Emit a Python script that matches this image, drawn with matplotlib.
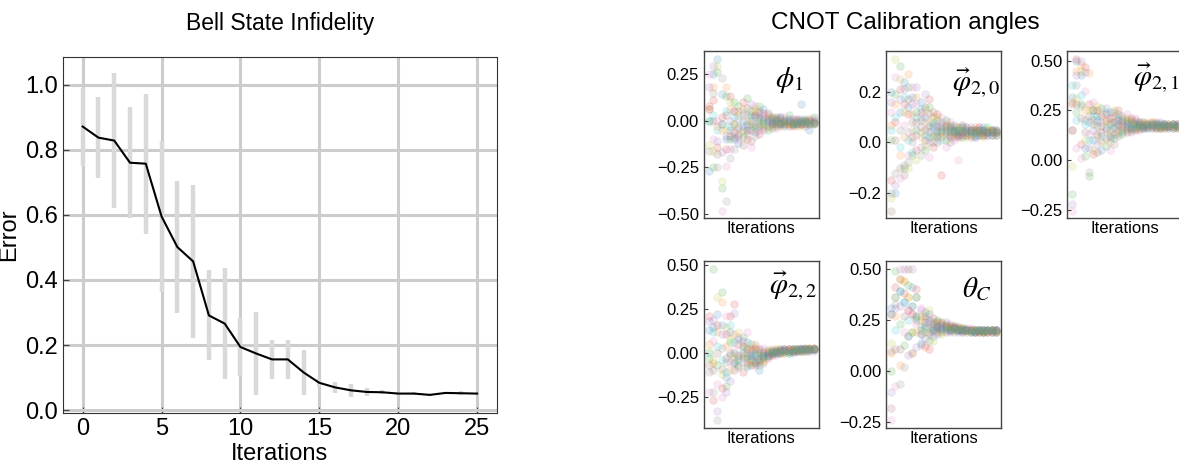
import numpy as np
import matplotlib.pyplot as plt

plt.rcParams['font.family'] = ['Liberation Sans', 'DejaVu Sans']
plt.rcParams['mathtext.fontset'] = 'stix'

# Bell state infidelity (mean +- half-range)
iters = list(range(26))
err_mean = [0.871, 0.837, 0.828, 0.760, 0.757, 0.595, 0.501, 0.457, 0.291, 0.266,
            0.194, 0.174, 0.156, 0.156, 0.116, 0.084, 0.070, 0.061, 0.056, 0.055,
            0.051, 0.051, 0.047, 0.053, 0.052, 0.051]
err_bar = [0.120, 0.125, 0.207, 0.171, 0.215, 0.233, 0.202, 0.236, 0.138, 0.171,
           0.090, 0.127, 0.059, 0.059, 0.069, 0.012, 0.018, 0.020, 0.011, 0.006,
           0.004, 0.005, 0.003, 0.004, 0.006, 0.003]

# calibration angles, one row per run
phi1 = [
    [-0.27, 0.25, 0.33, 0.14, -0.10, -0.05, -0.10, -0.12, 0.00, -0.05, 0.03, -0.06, 0.02, 0.06, -0.03, 0.01, -0.02, 0.02, -0.03, 0.00, -0.02, 0.01, 0.09, -0.01, -0.05, -0.01],
    [0.06, 0.18, -0.03, -0.05, 0.18, 0.06, -0.02, 0.05, 0.06, 0.03, -0.02, 0.05, 0.00, -0.04, 0.02, -0.03, 0.00, -0.03, 0.01, -0.02, -0.01, -0.03, 0.00, -0.02, -0.01, 0.00],
    [0.00, -0.25, 0.26, -0.36, 0.13, -0.10, 0.10, 0.08, -0.09, 0.12, 0.05, -0.04, 0.08, 0.01, -0.05, 0.02, -0.03, 0.01, -0.01, 0.03, -0.02, 0.00, -0.02, 0.01, 0.00, 0.02],
    [0.08, 0.11, -0.14, 0.02, -0.15, 0.13, -0.06, -0.04, 0.10, -0.10, -0.05, 0.03, -0.07, 0.04, 0.00, -0.02, 0.02, -0.01, 0.00, -0.03, 0.01, -0.01, -0.02, 0.00, 0.01, -0.01],
    [0.18, 0.29, -0.11, -0.17, -0.08, 0.00, -0.09, 0.01, -0.03, -0.02, 0.09, -0.02, 0.04, -0.05, 0.03, 0.00, -0.01, 0.02, -0.02, 0.01, 0.00, -0.02, 0.01, -0.03, 0.00, 0.01],
    [0.06, 0.00, -0.18, -0.02, 0.03, -0.08, 0.05, -0.08, -0.13, 0.07, -0.11, 0.02, -0.03, 0.00, 0.04, -0.01, 0.01, -0.02, 0.00, -0.01, -0.03, 0.00, -0.01, 0.00, -0.02, -0.01],
    [0.25, -0.10, 0.00, -0.48, -0.24, -0.15, 0.05, -0.10, 0.03, -0.05, -0.14, 0.08, -0.05, 0.02, -0.02, 0.01, -0.04, 0.00, 0.02, -0.01, 0.00, 0.01, -0.01, -0.02, 0.00, -0.02],
    [-0.16, 0.15, -0.25, 0.23, -0.43, -0.20, -0.15, -0.07, -0.05, -0.07, 0.00, -0.08, 0.05, -0.03, 0.01, -0.04, 0.00, -0.01, -0.02, 0.00, -0.01, -0.02, 0.00, -0.01, -0.01, 0.00],
    [-0.13, -0.16, 0.29, -0.32, -0.05, 0.10, -0.02, 0.03, -0.06, 0.00, -0.03, 0.06, -0.02, -0.02, -0.04, 0.02, -0.02, 0.00, -0.01, -0.02, -0.01, 0.00, -0.03, 0.00, -0.01, -0.02],
    [0.00, 0.03, -0.05, -0.02, 0.05, -0.03, 0.02, -0.03, 0.04, -0.03, 0.02, -0.03, 0.01, -0.01, 0.00, -0.01, 0.01, -0.02, 0.00, 0.01, -0.02, -0.01, 0.00, 0.00, -0.02, -0.01],
]
phi20 = [
    [0.20, -0.20, 0.12, 0.24, 0.14, 0.18, 0.05, 0.16, 0.10, 0.02, 0.08, 0.03, 0.06, 0.09, 0.04, 0.07, 0.03, 0.06, 0.04, 0.05, 0.02, 0.05, 0.04, 0.03, 0.05, 0.04],
    [0.07, 0.15, -0.05, 0.02, 0.27, 0.11, 0.18, 0.02, 0.13, 0.07, 0.10, 0.06, 0.02, 0.04, 0.07, 0.03, 0.06, 0.04, 0.05, 0.03, 0.06, 0.04, 0.05, 0.05, 0.03, 0.05],
    [0.01, 0.19, 0.30, -0.10, 0.22, -0.05, 0.12, 0.09, -0.03, 0.14, 0.03, 0.09, 0.05, 0.01, 0.06, 0.04, 0.05, 0.02, 0.06, 0.04, 0.05, 0.03, 0.04, 0.06, 0.04, 0.03],
    [-0.15, 0.08, 0.21, 0.15, 0.11, 0.02, -0.03, 0.12, 0.05, 0.17, -0.02, 0.11, -0.13, 0.07, 0.03, 0.05, 0.02, 0.07, 0.03, 0.05, 0.04, 0.06, 0.03, 0.04, 0.05, 0.04],
    [0.16, -0.17, 0.17, 0.21, 0.04, 0.15, 0.22, -0.02, 0.19, 0.00, 0.06, 0.02, 0.08, 0.03, 0.05, 0.02, 0.04, 0.05, 0.03, 0.06, 0.03, 0.04, 0.05, 0.03, 0.04, 0.05],
    [-0.27, 0.01, -0.10, -0.13, 0.17, 0.08, 0.08, 0.06, 0.01, 0.11, 0.12, 0.00, 0.04, 0.06, 0.00, 0.06, 0.03, 0.04, 0.05, 0.02, 0.05, 0.05, 0.03, 0.04, 0.04, 0.03],
    [0.12, 0.26, -0.14, 0.07, -0.05, 0.22, 0.15, 0.10, 0.08, -0.06, 0.05, 0.07, 0.10, -0.02, 0.08, 0.01, -0.07, 0.03, 0.06, 0.04, 0.02, 0.06, 0.04, 0.05, 0.03, 0.04],
    [-0.20, -0.12, 0.05, -0.09, -0.08, 0.00, 0.03, -0.05, 0.14, 0.04, 0.00, 0.04, 0.07, 0.05, 0.02, 0.05, 0.04, 0.03, 0.04, 0.05, 0.04, 0.03, 0.05, 0.04, 0.05, 0.04],
    [-0.22, 0.33, 0.25, 0.12, -0.10, 0.05, -0.07, 0.04, -0.01, 0.08, 0.02, 0.10, 0.03, 0.08, 0.04, 0.03, 0.06, 0.05, 0.02, 0.03, 0.05, 0.04, 0.02, 0.05, 0.05, 0.04],
    [0.05, 0.10, -0.02, 0.18, 0.01, -0.04, 0.10, 0.13, 0.03, 0.06, 0.07, 0.05, 0.01, 0.04, 0.06, 0.04, 0.05, 0.06, 0.04, 0.04, 0.03, 0.05, 0.06, 0.04, 0.03, 0.05],
]
phi21 = [
    [0.32, 0.50, 0.43, 0.06, 0.19, 0.10, 0.22, 0.05, 0.16, 0.24, 0.13, 0.20, 0.15, 0.19, 0.16, 0.18, 0.17, 0.19, 0.16, 0.18, 0.17, 0.16, 0.18, 0.17, 0.16, 0.17],
    [0.29, 0.45, 0.48, 0.25, 0.44, 0.20, 0.12, 0.23, 0.20, 0.09, 0.22, 0.14, 0.21, 0.15, 0.19, 0.16, 0.18, 0.16, 0.19, 0.17, 0.18, 0.17, 0.16, 0.18, 0.17, 0.18],
    [-0.17, 0.24, 0.28, 0.02, -0.08, 0.25, 0.17, 0.26, 0.07, 0.18, 0.11, 0.23, 0.13, 0.20, 0.15, 0.19, 0.16, 0.18, 0.17, 0.16, 0.18, 0.18, 0.17, 0.16, 0.18, 0.17],
    [0.15, 0.51, 0.08, 0.47, 0.28, 0.03, 0.25, 0.14, 0.23, 0.12, 0.19, 0.25, 0.17, 0.14, 0.20, 0.15, 0.19, 0.17, 0.18, 0.19, 0.16, 0.17, 0.18, 0.17, 0.17, 0.16],
    [-0.22, 0.43, 0.50, 0.445, 0.06, 0.15, 0.08, 0.19, 0.26, 0.15, 0.24, 0.12, 0.22, 0.18, 0.14, 0.20, 0.15, 0.17, 0.16, 0.18, 0.17, 0.19, 0.16, 0.18, 0.18, 0.17],
    [0.28, 0.28, 0.21, 0.14, 0.22, 0.25, 0.04, 0.17, 0.11, 0.21, 0.16, 0.18, 0.20, 0.16, 0.21, 0.17, 0.18, 0.16, 0.17, 0.17, 0.19, 0.16, 0.17, 0.17, 0.18, 0.18],
    [-0.255, 0.06, 0.01, 0.35, 0.13, 0.29, 0.19, 0.10, 0.20, 0.05, 0.21, 0.15, 0.18, 0.23, 0.17, 0.21, 0.16, 0.18, 0.17, 0.16, 0.18, 0.17, 0.18, 0.16, 0.17, 0.18],
    [0.15, 0.38, 0.27, 0.20, -0.06, 0.18, 0.13, 0.22, 0.15, 0.19, 0.08, 0.17, 0.19, 0.17, 0.18, 0.16, 0.19, 0.17, 0.18, 0.18, 0.16, 0.18, 0.17, 0.17, 0.16, 0.17],
    [-0.03, 0.31, 0.45, 0.10, 0.25, 0.05, 0.27, 0.09, 0.19, 0.14, 0.25, 0.13, 0.16, 0.21, 0.19, 0.17, 0.16, 0.19, 0.17, 0.19, 0.17, 0.16, 0.17, 0.18, 0.17, 0.16],
    [0.38, 0.20, 0.33, 0.18, 0.10, 0.22, 0.20, 0.12, 0.24, 0.11, 0.17, 0.21, 0.14, 0.18, 0.16, 0.18, 0.17, 0.16, 0.18, 0.17, 0.18, 0.17, 0.18, 0.17, 0.18, 0.17],
]
phi22 = [
    [0.13, 0.15, 0.22, 0.16, -0.14, 0.12, -0.05, 0.08, -0.03, 0.06, -0.04, -0.06, -0.10, 0.01, -0.02, 0.00, 0.01, 0.00, 0.02, 0.01, 0.02, 0.01, 0.02, 0.02, 0.01, 0.02],
    [0.05, -0.06, 0.12, 0.29, 0.04, -0.10, 0.11, -0.03, 0.04, -0.06, 0.01, 0.03, -0.02, -0.04, 0.01, -0.01, 0.02, 0.01, 0.00, 0.02, 0.01, 0.02, 0.01, 0.02, 0.03, 0.02],
    [-0.03, 0.48, -0.07, 0.345, -0.19, 0.06, 0.00, -0.07, 0.09, -0.03, 0.05, -0.05, 0.00, -0.03, -0.01, 0.01, 0.00, 0.02, 0.01, 0.00, 0.02, 0.01, 0.02, 0.03, 0.02, 0.02],
    [0.21, -0.27, 0.16, -0.20, 0.11, 0.21, 0.28, 0.05, -0.11, 0.02, -0.07, 0.02, -0.04, 0.00, -0.03, 0.00, 0.01, 0.01, 0.02, 0.01, 0.01, 0.02, 0.02, 0.01, 0.02, 0.03],
    [0.18, 0.19, -0.33, 0.11, -0.22, -0.16, 0.23, -0.01, 0.07, 0.00, -0.03, -0.02, 0.02, -0.06, 0.00, -0.01, 0.00, 0.02, 0.01, 0.02, 0.00, 0.02, 0.01, 0.02, 0.02, 0.01],
    [-0.07, -0.10, 0.00, -0.09, -0.03, 0.00, -0.10, -0.08, 0.00, -0.07, -0.02, -0.07, -0.05, -0.02, 0.00, 0.00, 0.01, 0.00, 0.01, 0.02, 0.01, 0.01, 0.02, 0.02, 0.02, 0.02],
    [-0.22, 0.07, -0.18, -0.25, 0.21, -0.05, 0.02, 0.09, -0.05, 0.12, 0.03, 0.05, 0.02, 0.03, -0.02, 0.02, -0.01, 0.01, 0.01, 0.02, 0.02, 0.01, 0.03, 0.02, 0.01, 0.03],
    [-0.11, -0.22, -0.385, 0.03, -0.05, -0.01, -0.06, -0.02, 0.04, -0.02, 0.02, -0.01, -0.07, -0.01, 0.01, 0.01, 0.00, 0.01, 0.02, 0.01, 0.02, 0.02, 0.01, 0.02, 0.02, 0.02],
    [0.01, -0.04, 0.32, -0.12, 0.15, 0.08, -0.03, 0.12, -0.02, 0.03, -0.05, 0.04, 0.01, -0.05, 0.02, 0.00, 0.02, 0.00, 0.00, 0.01, 0.02, 0.02, 0.01, 0.01, 0.03, 0.02],
    [0.00, 0.12, 0.04, -0.04, -0.11, 0.16, 0.06, -0.04, 0.02, -0.08, -0.01, 0.00, -0.03, -0.02, -0.01, 0.01, 0.00, 0.01, 0.01, 0.00, 0.01, 0.02, 0.02, 0.01, 0.02, 0.02],
]
thetac = [
    [0.31, 0.36, 0.39, 0.34, 0.17, 0.41, 0.27, 0.14, 0.22, 0.28, 0.17, 0.24, 0.21, 0.22, 0.20, 0.21, 0.20, 0.19, 0.20, 0.20, 0.19, 0.20, 0.19, 0.20, 0.19, 0.20],
    [0.09, 0.27, 0.03, 0.44, 0.36, 0.09, 0.19, 0.27, 0.12, 0.21, 0.23, 0.19, 0.24, 0.21, 0.22, 0.20, 0.21, 0.20, 0.19, 0.20, 0.20, 0.19, 0.20, 0.19, 0.20, 0.19],
    [0.00, 0.49, 0.23, 0.13, 0.42, 0.19, 0.36, 0.22, 0.29, 0.15, 0.20, 0.25, 0.19, 0.23, 0.21, 0.22, 0.20, 0.21, 0.20, 0.19, 0.20, 0.20, 0.19, 0.20, 0.20, 0.19],
    [0.28, 0.41, 0.45, 0.38, 0.30, 0.28, 0.40, 0.18, 0.24, 0.11, 0.26, 0.22, 0.23, 0.19, 0.22, 0.21, 0.21, 0.20, 0.20, 0.20, 0.19, 0.20, 0.20, 0.19, 0.20, 0.20],
    [-0.10, 0.31, 0.32, 0.50, 0.08, 0.50, 0.12, 0.30, 0.16, 0.25, 0.21, 0.18, 0.22, 0.24, 0.19, 0.21, 0.19, 0.21, 0.20, 0.19, 0.20, 0.19, 0.20, 0.20, 0.19, 0.20],
    [-0.18, 0.11, 0.11, 0.27, 0.50, 0.32, 0.25, 0.20, 0.26, 0.18, 0.24, 0.21, 0.20, 0.22, 0.20, 0.22, 0.20, 0.20, 0.21, 0.20, 0.19, 0.20, 0.19, 0.20, 0.20, 0.20],
    [-0.24, -0.07, 0.50, 0.19, 0.30, 0.28, 0.23, 0.31, 0.13, 0.23, 0.19, 0.23, 0.21, 0.20, 0.23, 0.20, 0.22, 0.19, 0.20, 0.21, 0.20, 0.20, 0.20, 0.20, 0.19, 0.20],
    [0.10, 0.33, -0.06, 0.02, 0.17, 0.09, 0.36, 0.13, 0.27, 0.19, 0.22, 0.20, 0.24, 0.21, 0.21, 0.19, 0.21, 0.20, 0.20, 0.20, 0.20, 0.19, 0.20, 0.19, 0.20, 0.19],
    [0.14, 0.36, 0.45, 0.44, 0.36, 0.19, 0.27, 0.25, 0.19, 0.30, 0.15, 0.24, 0.18, 0.22, 0.21, 0.20, 0.21, 0.21, 0.19, 0.20, 0.20, 0.20, 0.19, 0.20, 0.20, 0.19],
    [0.28, 0.20, 0.39, 0.34, 0.25, 0.32, 0.26, 0.18, 0.21, 0.24, 0.20, 0.22, 0.21, 0.20, 0.20, 0.21, 0.20, 0.20, 0.20, 0.19, 0.20, 0.20, 0.20, 0.20, 0.20, 0.20],
]
angle_names = [r'$\phi_1$', r'$\vec{\varphi}_{2,0}$', r'$\vec{\varphi}_{2,1}$',
               r'$\vec{\varphi}_{2,2}$', r'$\theta_C$']
angle_data = [phi1, phi20, phi21, phi22, thetac]
angle_ticks = [[-0.5, -0.25, 0.0, 0.25], [-0.2, 0.0, 0.2], [-0.25, 0.0, 0.25, 0.5],
               [-0.25, 0.0, 0.25, 0.5], [-0.25, 0.0, 0.25, 0.5]]
tick_fmt = ['{:.2f}', '{:.1f}', '{:.2f}', '{:.2f}', '{:.2f}']

fig = plt.figure(figsize=(11.79, 4.66), dpi=100)

# left: infidelity
ax = fig.add_axes([0.0534, 0.1137, 0.368, 0.764])
ax.errorbar(iters, err_mean, yerr=err_bar, fmt='none', ecolor='#d9d9d9', elinewidth=3.2, capsize=0, zorder=2)
ax.plot(iters, err_mean, color='black', lw=1.5, zorder=3)
ax.grid(True, color='#cccccc', lw=2.2, zorder=0)
ax.set_axisbelow(True)
ax.set_xticks([0, 5, 10, 15, 20, 25])
ax.set_yticks([0.0, 0.2, 0.4, 0.6, 0.8, 1.0])
ax.tick_params(direction='in', labelsize=17, color='#444444', length=4)
for s in ax.spines.values():
    s.set_color('#333333')
ax.set_xlabel('Iterations', fontsize=17, labelpad=2)
ax.set_ylabel('Error', fontsize=17, labelpad=4)
fig.text(0.238, 0.950, 'Bell State Infidelity', fontsize=16.5, ha='center', va='center')

# right: calibration angle panels
fig.text(0.768, 0.950, 'CNOT Calibration angles', fontsize=17.5, ha='center', va='center')
cols = plt.get_cmap('tab10').colors
pos = [[0.597, 0.532], [0.7515, 0.532], [0.905, 0.532], [0.597, 0.0815], [0.7515, 0.0815]]
lab_pos = [(0.62, 0.83), (0.57, 0.81), (0.57, 0.84), (0.57, 0.85), (0.66, 0.83)]
for k in range(5):
    a = fig.add_axes([pos[k][0], pos[k][1], 0.0975, 0.358])
    for r, run in enumerate(angle_data[k]):
        a.scatter(iters, run, s=30, color=cols[r % 10], alpha=0.15, linewidths=0.5)
    a.set_xticks([])
    a.set_yticks(angle_ticks[k])
    a.set_yticklabels([tick_fmt[k].format(t).replace('-', '\u2212') for t in angle_ticks[k]])
    a.tick_params(direction='in', labelsize=12, length=3, color='#444444')
    for s in a.spines.values():
        s.set_color('#444444')
        s.set_linewidth(1.0)
    a.set_xlabel('Iterations', fontsize=12, labelpad=2)
    a.text(lab_pos[k][0], lab_pos[k][1], angle_names[k], transform=a.transAxes,
           fontsize=21, ha='left', va='center')

fig.savefig('out.png', dpi=100)
